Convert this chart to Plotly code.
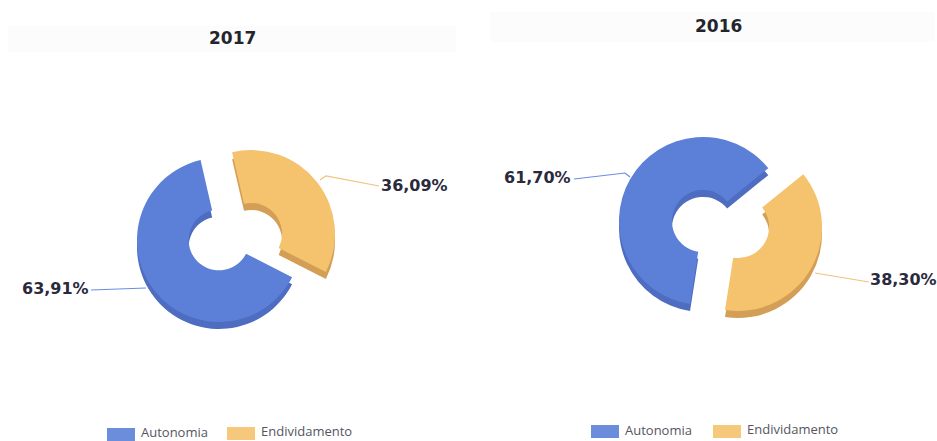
import plotly.graph_objects as go

W, H = 937, 441

# Capital structure shares per year
categories = ["Endividamento", "Autonomia"]
years = ["2017", "2016"]
values_2017 = [36.09, 63.91]
values_2016 = [38.30, 61.70]
labels_2017 = ["36,09%", "63,91%"]
labels_2016 = ["38,30%", "61,70%"]

TOP = {"Endividamento": "#F5C26E", "Autonomia": "#5C80D8"}
SIDE = {"Endividamento": "#D39E55", "Autonomia": "#4E6CC0"}
CLEAR = "rgba(0,0,0,0)"
DEPTH = 7
HOLE = 0.37

# Each donut: rotation plus the centre and radius of each separated slice, in pixels
donuts = [
    dict(values=values_2017, rotation=-13,
         slices={"Endividamento": (251, 234, 84), "Autonomia": (219, 240, 82)}),
    dict(values=values_2016, rotation=51,
         slices={"Endividamento": (738, 227, 84), "Autonomia": (703, 221, 84)}),
]


def domain(cx, cy, r):
    return dict(x=[(cx - r) / W, (cx + r) / W], y=[1 - (cy + r) / H, 1 - (cy - r) / H])


fig = go.Figure()


def add_slice(d, index, name, colour, dy):
    cx, cy, r = d["slices"][name]
    colours = [CLEAR, CLEAR]
    colours[index] = colour
    fig.add_trace(go.Pie(
        labels=categories, values=d["values"], hole=HOLE, sort=False,
        direction="clockwise", rotation=d["rotation"],
        domain=domain(cx, cy + dy, r),
        marker=dict(colors=colours, line=dict(width=0)),
        textinfo="none", hoverinfo="label+percent", showlegend=False,
    ))


for d in donuts:
    for i, name in enumerate(categories):
        add_slice(d, i, name, SIDE[name], DEPTH)
    for i, name in enumerate(categories):
        add_slice(d, i, name, TOP[name], 0)


def px(x):
    return x / W


def py(y):
    return 1 - y / H


shapes = []
annotations = []


def leader(points, colour):
    path = "M " + " L ".join(f"{px(x):.4f},{py(y):.4f}" for x, y in points)
    shapes.append(dict(type="path", xref="paper", yref="paper", path=path,
                       line=dict(color=colour, width=1.2)))


def text(x, y, s, size, colour, bold=False, family="DejaVu Sans", anchor="center"):
    annotations.append(dict(
        xref="paper", yref="paper", x=px(x), y=py(y), xanchor=anchor, yanchor="middle",
        text=f"<b>{s}</b>" if bold else s, showarrow=False, borderpad=0,
        font=dict(family=family, size=size, color=colour),
    ))


# Faint bands behind the titles
for x0, y0, x1, y1 in [(8, 26, 456, 52), (490, 12, 935, 42)]:
    shapes.append(dict(type="rect", xref="paper", yref="paper", layer="below",
                       x0=px(x0), x1=px(x1), y0=py(y1), y1=py(y0),
                       fillcolor="#FCFCFD", line=dict(width=0)))

text(232, 38, years[0], 17, "#24242C", bold=True)
text(718, 26, years[1], 17, "#24242C", bold=True)

# Value labels and their leader lines
text(414, 185, labels_2017[0], 16, "#2A2A3C", bold=True)
text(55, 288, labels_2017[1], 16, "#2A2A3C", bold=True)
text(537, 178, labels_2016[1], 16, "#2A2A3C", bold=True)
text(903, 279, labels_2016[0], 16, "#2A2A3C", bold=True)

leader([(320, 180), (326, 176), (379, 186)], "#F2C27C")
leader([(91, 290), (146, 288)], "#6A8EE0")
leader([(574, 179), (625, 173), (630, 177)], "#6A8EE0")
leader([(815, 273), (869, 282)], "#F2C27C")

# Legends under each donut
for (ax, ay, atx, aty), (ex, ey, etx, ety) in [
    (((107, 434, 140, 431.5), (227, 433, 260, 431))),
    (((591, 431, 624, 430), (713, 431, 746, 429))),
]:
    for x, y, tx, ty, name in [(ax, ay, atx, aty, "Autonomia"), (ex, ey, etx, ety, "Endividamento")]:
        shapes.append(dict(type="rect", xref="paper", yref="paper",
                           x0=px(x), x1=px(x + 28), y0=py(y + 7), y1=py(y - 6),
                           fillcolor=TOP[name], opacity=0.9, line=dict(width=0)))
        text(tx, ty, name, 13, "#55555F", family="Open Sans", anchor="left")

fig.update_layout(
    width=W, height=H, autosize=False,
    margin=dict(l=0, r=0, t=0, b=0),
    paper_bgcolor="white", plot_bgcolor="white",
    showlegend=False, shapes=shapes, annotations=annotations,
)

fig.write_html("out.html", config={"displayModeBar": False})
